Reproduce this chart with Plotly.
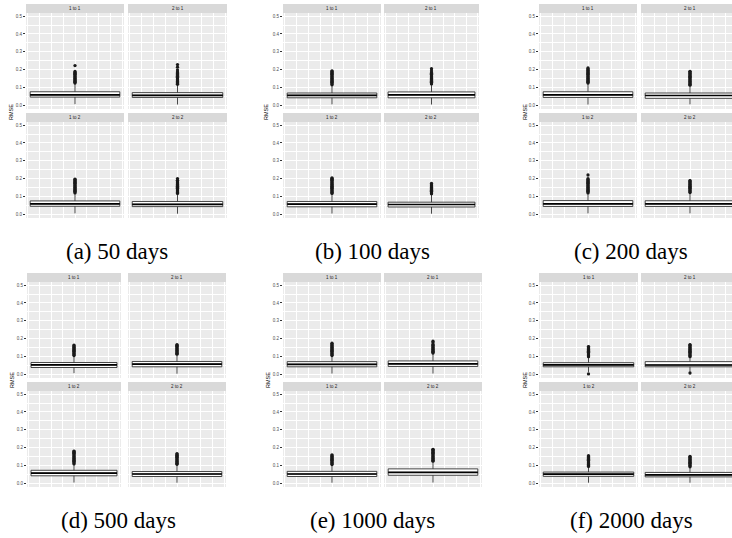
import plotly.graph_objects as go

# ---------------- data ----------------
captions = ["(a) 50 days", "(b) 100 days", "(c) 200 days",
            "(d) 500 days", "(e) 1000 days", "(f) 2000 days"]
facets = ["1 to 1", "2 to 1", "1 to 2", "2 to 2"]
y_ticks = [0.0, 0.1, 0.2, 0.3, 0.4, 0.5]
y_tick_text = ["0.0", "0.1", "0.2", "0.3", "0.4", "0.5"]

q1 = [[.045, .043, .044, .042], [.041, .041, .041, .040], [.043, .038, .043, .043],
      [.037, .041, .041, .037], [.041, .043, .037, .044], [.041, .041, .038, .035]]
med = [[.058, .055, .058, .055], [.055, .058, .056, .054], [.058, .054, .058, .058],
       [.052, .056, .056, .051], [.055, .058, .051, .060], [.052, .051, .050, .046]]
q3 = [[.075, .070, .074, .071], [.068, .074, .071, .067], [.075, .068, .076, .075],
      [.065, .071, .072, .065], [.070, .074, .066, .080], [.064, .070, .062, .060]]
lo = [[.005, .003, .004, .002], [.004, .003, .003, .002], [.003, .004, .004, .004],
      [.005, .002, .003, .002], [.003, .003, .002, .003], [.012, .014, .002, .002]]
hi = [[.120, .113, .115, .112], [.110, .115, .112, .110], [.120, .108, .115, .117],
      [.100, .108, .105, .102], [.100, .115, .100, .120], [.095, .095, .090, .088]]

out_a = [[.124, .129, .134, .139, .144, .149, .154, .159, .164, .169, .174, .179, .184, .189, .222],
         [.117, .122, .127, .132, .137, .142, .147, .152, .157, .162, .167, .172, .177, .182, .186,
          .197, .213, .228],
         [.119, .124, .129, .134, .139, .144, .149, .154, .159, .164, .169, .174, .179, .184, .189,
          .194, .197],
         [.116, .121, .126, .131, .136, .141, .146, .151, .156, .161, .166, .171, .176, .181, .186,
          .19, .2]]
out_b = [[.114, .119, .124, .129, .134, .139, .144, .149, .154, .159, .164, .169, .174, .179, .184,
          .189, .193],
         [.119, .124, .129, .134, .139, .144, .149, .154, .159, .164, .169, .174, .179, .182, .192, .205],
         [.116, .121, .126, .131, .136, .141, .146, .151, .156, .161, .166, .171, .176, .181, .186,
          .191, .196, .2, .204],
         [.114, .119, .124, .129, .134, .139, .144, .149, .154, .159, .164, .169, .172]]
out_c = [[.124, .129, .134, .139, .144, .149, .154, .159, .164, .169, .174, .179, .184, .189, .194,
          .199, .204, .209],
         [.112, .117, .122, .127, .132, .137, .142, .147, .152, .157, .162, .167, .172, .177, .182,
          .187, .19],
         [.119, .124, .129, .134, .139, .144, .149, .154, .159, .164, .169, .174, .179, .184, .189,
          .194, .199, .22],
         [.121, .126, .131, .136, .141, .146, .151, .156, .161, .166, .171, .176, .181, .186, .188]]
out_d = [[.104, .109, .114, .119, .124, .129, .134, .139, .144, .149, .154, .159, .163],
         [.112, .117, .122, .127, .132, .137, .142, .147, .152, .157, .162, .166],
         [.108, .113, .118, .123, .128, .133, .138, .143, .148, .153, .158, .163, .168, .173, .178, .18],
         [.106, .111, .116, .121, .126, .131, .136, .141, .146, .151, .156, .161, .166]]
out_e = [[.104, .109, .114, .119, .124, .129, .134, .139, .144, .149, .154, .159, .164, .169, .174],
         [.118, .123, .128, .133, .138, .143, .148, .153, .158, .163, .165, .176, .185],
         [.104, .109, .114, .119, .124, .129, .134, .139, .144, .149, .154, .159],
         [.123, .128, .133, .138, .143, .148, .153, .158, .163, .168, .173, .178, .183, .188, .19]]
out_f = [[.001, .098, .103, .108, .113, .118, .123, .128, .133, .138, .143, .148, .153, .155],
         [.006, .098, .103, .108, .113, .118, .123, .128, .133, .138, .143, .148, .153, .158, .163, .165],
         [.094, .099, .104, .109, .114, .119, .124, .129, .134, .139, .144, .149, .154],
         [.092, .097, .102, .107, .112, .117, .122, .127, .132, .137, .142, .147, .15]]
outliers = [out_a, out_b, out_c, out_d, out_e, out_f]

# ---------------- layout geometry (pixels) ----------------
W, H = 732, 538
col_px = [(26, 124, 128, 227), (283, 381, 384, 479), (539, 637, 641, 739),
          (27, 121, 128, 226), (283, 381, 384, 482), (539, 638, 641, 739)]
rows_top = [((4, 13), (13, 109)), ((113, 122), (122, 218))]
rows_bot = [((273, 282), (282, 378)), ((382, 391), (391, 487))]
caption_xy = [(117, 252), (372, 252), (631, 252), (118, 520), (373, 520), (631, 520)]
ytitle_xy = [(11, 112), (266, 112), (525, 112), (12, 380), (268, 380), (525, 380)]

BOX_W = 0.75
XR = 0.41
YR = [-0.022, 0.518]

fig = go.Figure()
lay = {}
shapes = []
annotations = []

def fx(p):
    return p / W

def fy(p):
    return 1 - p / H

n = 0
for f in range(6):
    cols = col_px[f]
    rows = rows_top if f < 3 else rows_bot
    for k in range(4):
        n += 1
        c, r = k % 2, k // 2
        x0, x1 = cols[2 * c], cols[2 * c + 1]
        (sy0, sy1), (py0, py1) = rows[r]
        x1c = min(x1, W)
        xr = [-XR, -XR + 2 * XR * (x1c - x0) / (x1 - x0)]
        xa = "xaxis" if n == 1 else f"xaxis{n}"
        ya = "yaxis" if n == 1 else f"yaxis{n}"
        xref = "x" if n == 1 else f"x{n}"
        yref = "y" if n == 1 else f"y{n}"
        lay[xa] = dict(domain=[fx(x0), fx(x1c)], range=xr, anchor=yref,
                       showticklabels=False, ticks="", zeroline=False,
                       showgrid=True, gridcolor="white", gridwidth=0.9,
                       tick0=0, dtick=0.2, showline=False,
                       minor=dict(showgrid=True, gridcolor="white", gridwidth=0.4,
                                  tick0=0, dtick=0.1))
        lay[ya] = dict(domain=[fy(py1), fy(py0)], range=YR, anchor=xref,
                       tickvals=y_ticks, ticktext=y_tick_text,
                       showticklabels=(c == 0),
                       ticks="outside" if c == 0 else "", ticklen=2, tickwidth=0.5,
                       tickcolor="#333333",
                       tickfont=dict(family="Liberation Sans", size=4.5, color="#4D4D4D"),
                       zeroline=False, showgrid=True, gridcolor="white", gridwidth=0.9,
                       showline=False,
                       minor=dict(showgrid=True, gridcolor="white", gridwidth=0.4,
                                  tick0=0.05, dtick=0.1))
        # strip
        shapes.append(dict(type="rect", xref="paper", yref="paper",
                           x0=fx(x0), x1=fx(x1c), y0=fy(sy1), y1=fy(sy0),
                           fillcolor="#D9D9D9", line=dict(width=0), layer="below"))
        annotations.append(dict(text=facets[k], xref="paper", yref="paper",
                                x=fx((x0 + x1) / 2), y=fy((sy0 + sy1) / 2),
                                xanchor="center", yanchor="middle", showarrow=False,
                                font=dict(family="Liberation Sans", size=4.5, color="#1A1A1A")))
        # box
        fig.add_trace(go.Box(x=[0], q1=[q1[f][k]], median=[med[f][k]], q3=[q3[f][k]],
                             lowerfence=[lo[f][k]], upperfence=[hi[f][k]],
                             width=BOX_W, whiskerwidth=0, boxpoints=False,
                             fillcolor="white", line=dict(color="#333333", width=0.9),
                             xaxis=xref, yaxis=yref, showlegend=False, hoverinfo="skip"))
        fig.add_trace(go.Scatter(x=[-BOX_W / 2, BOX_W / 2], y=[med[f][k], med[f][k]],
                                 mode="lines", line=dict(color="black", width=1.7),
                                 xaxis=xref, yaxis=yref, showlegend=False, hoverinfo="skip"))
        ov = outliers[f][k]
        fig.add_trace(go.Scatter(x=[0] * len(ov), y=ov, mode="markers",
                                 marker=dict(color="#1A1A1A", size=3.3, line=dict(width=0)),
                                 xaxis=xref, yaxis=yref, showlegend=False, hoverinfo="skip"))
    # y title
    tx, ty = ytitle_xy[f]
    annotations.append(dict(text="RMSE", xref="paper", yref="paper", x=fx(tx), y=fy(ty),
                            xanchor="center", yanchor="middle", textangle=-90, showarrow=False,
                            font=dict(family="Liberation Sans", size=5.5, color="black")))
    cx_, cy_ = caption_xy[f]
    annotations.append(dict(text=captions[f], xref="paper", yref="paper", x=fx(cx_), y=fy(cy_),
                            xanchor="center", yanchor="middle", showarrow=False,
                            font=dict(family="Liberation Serif", size=23, color="black")))

fig.update_layout(width=W, height=H, margin=dict(l=0, r=0, t=0, b=0),
                  paper_bgcolor="white", plot_bgcolor="#EBEBEB",
                  shapes=shapes, annotations=annotations, showlegend=False, **lay)

fig.write_html("out.html")
